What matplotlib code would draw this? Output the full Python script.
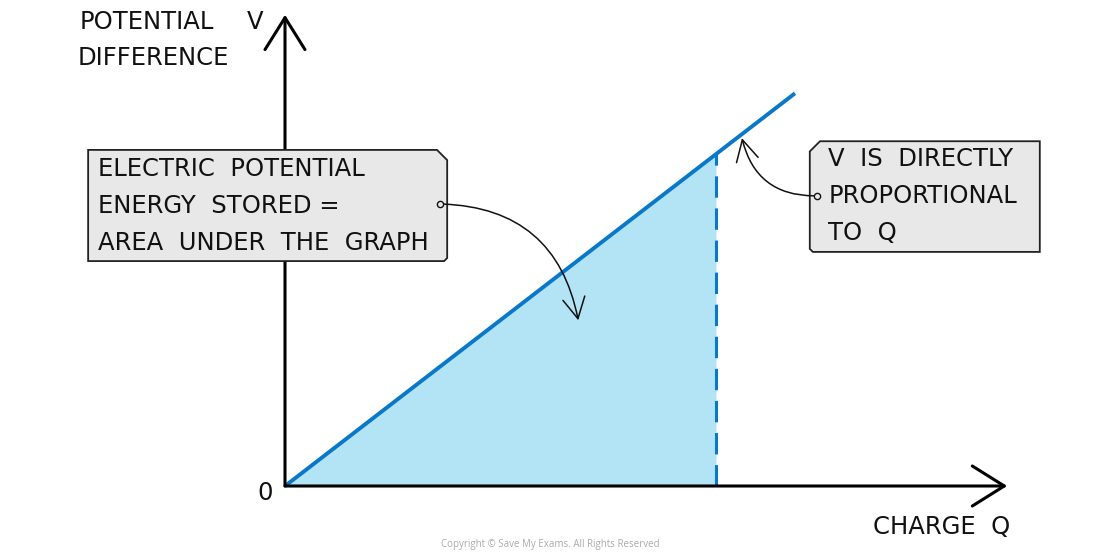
import numpy as np
import matplotlib
matplotlib.use('Agg')
import matplotlib.pyplot as plt
from matplotlib.patches import FancyArrowPatch, Polygon

# V = k Q, straight line through origin
q_line = [0.0, 10.0]
v_line = [0.0, 7.7]
q_stored = 8.45          # charge where the stored-energy area ends
v_stored = v_line[1] / q_line[1] * q_stored

box_left_lines = ['ELECTRIC  POTENTIAL', 'ENERGY  STORED =', 'AREA  UNDER  THE  GRAPH']
box_right_lines = ['V  IS  DIRECTLY', 'PROPORTIONAL', 'TO  Q']

blue = '#0a78c8'
fill_blue = '#b2e4f6'
box_grey = '#e8e8e8'
fnt = 'DejaVu Sans'

fig = plt.figure(figsize=(11, 5.57), dpi=100)
ax = fig.add_axes([0, 0, 1, 1])
s = 51.0  # pixels per data unit
ax.set_xlim(-285 / s, (1100 - 285) / s)
ax.set_ylim(-(557 - 486) / s, 486 / s)
ax.axis('off')

# shaded area under the graph
qq = np.array([0, q_stored])
ax.fill_between(qq, 0, qq * v_line[1] / q_line[1], color=fill_blue, lw=0, zorder=1)
ax.plot([q_stored, q_stored], [0, v_stored], color=blue, lw=2.2,
        dashes=(7, 3.5), zorder=2)
ax.plot(q_line, v_line, color=blue, lw=2.8, solid_capstyle='butt', zorder=3)

# axes with open arrow heads
for (x0, y0, x1, y1) in [(0, 0, 14.16, 0), (0, 0, 0, 9.24)]:
    ax.add_patch(FancyArrowPatch((x0, y0), (x1, y1),
                 arrowstyle='->,head_length=1.15,head_width=0.72',
                 mutation_scale=20, lw=2.2, color='black', zorder=4,
                 shrinkA=0, shrinkB=0, capstyle='round'))

tk = dict(fontsize=17.5, family=fnt, color='#111111')
ax.text(-4.02, 9.10, 'POTENTIAL', ha='left', va='center', **tk)
ax.text(-0.75, 9.10, 'V', ha='left', va='center', **tk)
ax.text(-4.06, 8.39, 'DIFFERENCE', ha='left', va='center', **tk)
ax.text(-0.39, -0.14, '0', ha='center', va='center', **tk)
ax.text(14.22, -0.80, 'CHARGE  Q', ha='right', va='center', **tk)


def label_box(x0, x1, y0, y1, cut_left):
    c = 0.2
    if cut_left:
        pts = [(x0 + c, y1), (x1, y1), (x1, y0), (x0 + 0.06, y0), (x0, y0 + 0.06), (x0, y1 - c)]
    else:
        pts = [(x0, y1), (x1 - c, y1), (x1, y1 - c), (x1, y0 + 0.06), (x1 - 0.06, y0), (x0, y0)]
    ax.add_patch(Polygon(pts, closed=True, fc=box_grey, ec='#222222', lw=1.3, zorder=5))


label_box(-3.86, 3.18, 4.41, 6.59, cut_left=False)
label_box(10.29, 14.80, 4.59, 6.76, cut_left=True)

for i, t in enumerate(box_left_lines):
    ax.text(-3.67, 6.22 - 0.725 * i, t, ha='left', va='center', zorder=6, **tk)
for i, t in enumerate(box_right_lines):
    ax.text(10.65, 6.41 - 0.725 * i, t, ha='left', va='center', zorder=6, **tk)

# curved pointers
ax.add_patch(FancyArrowPatch((3.04, 5.53), (5.75, 3.25),
             connectionstyle='arc3,rad=-0.4',
             arrowstyle='->,head_length=0.75,head_width=0.4',
             mutation_scale=20, lw=1.1, color='#111111', zorder=7,
             shrinkA=2, shrinkB=0))
ax.add_patch(FancyArrowPatch((10.43, 5.69), (8.96, 6.82),
             connectionstyle='arc3,rad=-0.4',
             arrowstyle='->,head_length=0.75,head_width=0.4',
             mutation_scale=20, lw=1.1, color='#111111', zorder=7,
             shrinkA=2, shrinkB=0))
ax.plot([3.04, 10.43], [5.53, 5.69], ls='none', marker='o', ms=4.5,
        mfc=box_grey, mec='#111111', mew=1.0, zorder=8)

ax.text(550 / s - 285 / s, -(545 - 486) / s, 'Copyright \u00a9 Save My Exams. All Rights Reserved',
        ha='center', va='center', fontsize=7, family='Open Sans', color='#aaaaaa')

fig.savefig('out.png', dpi=100)
